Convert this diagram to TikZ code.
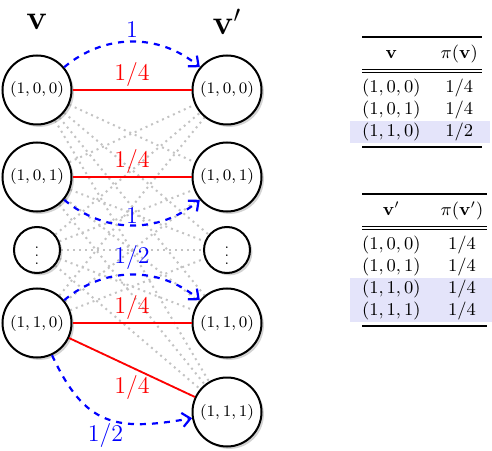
\documentclass[tikz,border=0pt]{standalone}
\usepackage{amsmath,amssymb}
\usepackage{booktabs,colortbl}
\usetikzlibrary{arrows.meta,shadows,backgrounds}
\definecolor{hl}{RGB}{228,228,250}
\definecolor{crossg}{RGB}{195,195,195}

\begin{document}
\begin{tikzpicture}[x=0.5pt,y=0.5pt,>={Straight Barb[length=4pt,width=7pt]}]
\tikzset{st/.style={circle,draw,line width=1pt,fill=white,minimum size=34.5pt,inner sep=0pt,font=\footnotesize,
    drop shadow={shadow xshift=1.2pt,shadow yshift=-1.2pt,opacity=.35}},
  dt/.style={st,minimum size=23pt,font=\scriptsize},
  pr/.style={red,line width=0.9pt},
  tr/.style={->,blue,dashed,line width=1.1pt},
  cross/.style={crossg,dotted,line width=1pt},
  lab/.style={font=\large},
  tab/.style={anchor=west,font=\small}}
\useasboundingbox (0,0) rectangle (492,450);
% states v and v'
\node[font=\LARGE] (hv) at (37,428) {$\mathbf{v}$};\node[font=\LARGE] (hw) at (227,428) {$\mathbf{v}'$};
\node[st] (l1) at (37,360) {$(1,0,0)$};\node[st] (l2) at (37,273) {$(1,0,1)$};
\node[dt] (ld) at (37,200) {$\vdots$};\node[st] (l4) at (37,127) {$(1,1,0)$};
\node[st] (r1) at (227,360) {$(1,0,0)$};\node[st] (r2) at (227,273) {$(1,0,1)$};
\node[dt] (rd) at (227,200) {$\vdots$};\node[st] (r4) at (227,127) {$(1,1,0)$};
\node[st] (r5) at (227,38) {$(1,1,1)$};
\begin{scope}[on background layer]
\foreach \a in {l1,l2,ld,l4}{\foreach \b in {r1,r2,rd,r4,r5}{\draw[cross] (\a) -- (\b);}}
\end{scope}
% coupling
\draw[pr] (l1) -- (r1) node[midway,above=-2pt,lab,text=red]{$1/4$};
\draw[pr] (l2) -- (r2) node[midway,above=-2pt,lab,text=red]{$1/4$};
\draw[pr] (l4) -- (r4) node[midway,above=-2pt,lab,text=red]{$1/4$};
\draw[pr] (l4) -- (r5) node[midway,below=0pt,lab,text=red]{$1/4$};
% transitions
\draw[tr] (l1) to[bend left=40] node[midway,above=-2pt,lab]{$1$} (r1);
\draw[tr] (l2) to[bend right=40] node[midway,above=-3pt,lab]{$1$} (r2);
\draw[tr] (l4) to[bend left=40] node[midway,above=-1.5pt,lab]{$1/2$} (r4);
\draw[tr] (l4) to[out=-65,in=190,looseness=1.3] node[pos=0.5,below=-1.5pt,lab]{$1/2$} (r5);
% tables
\node[tab] (tv) at (355,358) {\begin{tabular}{@{}c@{\hspace{10pt}}c@{\hspace{2pt}}}
\toprule[1pt]
$\mathbf{v}$ & $\pi(\mathbf{v})$\\
\specialrule{.4pt}{2pt}{1pt}\specialrule{.4pt}{0pt}{2pt}
$(1,0,0)$ & $1/4$\\
$(1,0,1)$ & $1/4$\\
\rowcolor{hl}$(1,1,0)$ & $1/2$\\
\bottomrule[1pt]
\end{tabular}};
\node[tab] (tw) at (355,190) {\begin{tabular}{@{}c@{\hspace{10pt}}c@{\hspace{2pt}}}
\toprule[1pt]
$\mathbf{v}'$ & $\pi(\mathbf{v}')$\\
\specialrule{.4pt}{2pt}{1pt}\specialrule{.4pt}{0pt}{2pt}
$(1,0,0)$ & $1/4$\\
$(1,0,1)$ & $1/4$\\
\rowcolor{hl}$(1,1,0)$ & $1/4$\\
\rowcolor{hl}$(1,1,1)$ & $1/4$\\
\bottomrule[1pt]
\end{tabular}};
\end{tikzpicture}
\end{document}
